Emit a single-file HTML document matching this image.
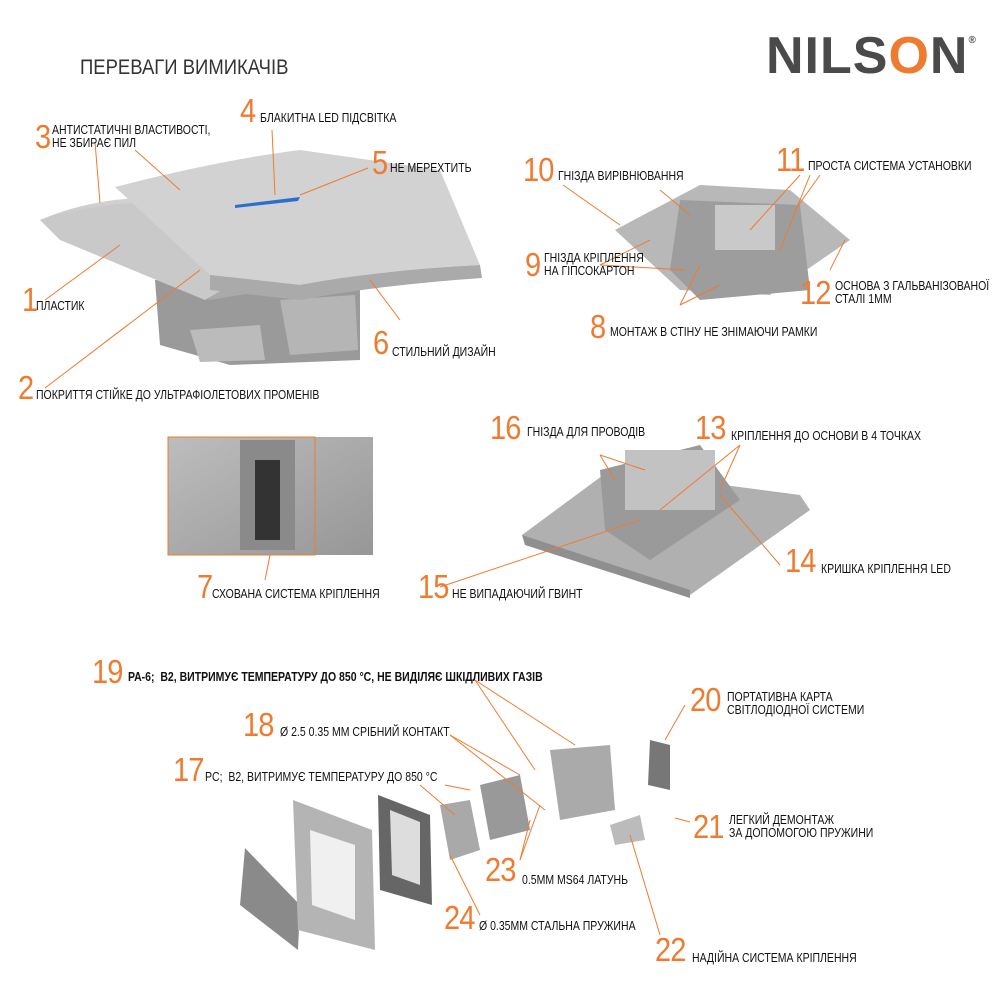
<!DOCTYPE html>
<html><head><meta charset="utf-8">
<style>
html,body{margin:0;padding:0;background:#fff}
#c{position:relative;width:1000px;height:1000px;overflow:hidden;font-family:"Liberation Sans Narrow","Liberation Sans",sans-serif}
.n{position:absolute;color:#ee7b30;font-size:33px;line-height:30px;font-weight:300;letter-spacing:-1px;transform:scaleX(.88);transform-origin:0 0}
.t{position:absolute;color:#111;font-size:12.5px;line-height:13px;white-space:nowrap;transform:scaleX(.84);transform-origin:0 0}
svg{position:absolute;left:0;top:0}
</style></head><body><div id="c">
<svg width="1000" height="1000" viewBox="0 0 1000 1000">
<defs>
<linearGradient id="g1" x1="0" y1="0" x2="0" y2="1"><stop offset="0" stop-color="#d8d8d8"/><stop offset="1" stop-color="#a8a8a8"/></linearGradient>
<linearGradient id="g2" x1="0" y1="0" x2="1" y2="1"><stop offset="0" stop-color="#bdbdbd"/><stop offset="1" stop-color="#7d7d7d"/></linearGradient>
</defs>
<path d="M155 280 L360 280 L360 360 L230 365 L160 345 Z" fill="#9a9a9a"/>
<path d="M190 330 L260 325 L265 360 L200 362 Z" fill="#bbb"/>
<path d="M280 300 L355 295 L358 350 L290 355 Z" fill="#b5b5b5"/>
<path d="M40 220 Q110 190 200 200 L360 185 L395 270 Q300 285 210 300 L70 240 Z" fill="url(#g1)"/>
<path d="M40 220 Q120 195 210 205 L230 285 L205 300 L60 240 Z" fill="#c9c9c9"/>
<path d="M115 187 Q220 160 300 150 L440 170 L480 265 Q380 270 300 285 L210 275 Z" fill="#d2d2d2"/>
<path d="M210 275 L300 285 Q380 270 480 265 L482 278 Q380 285 300 300 L210 290 Z" fill="#aaa"/>
<path d="M235 205 L300 197 L298 201 L235 208 Z" fill="#2a6fd0"/>
<rect x="168" y="437" width="205" height="118" fill="#bdbdbd"/>
<rect x="168" y="437" width="205" height="118" fill="url(#g2)" opacity=".6"/>
<rect x="240" y="440" width="55" height="110" fill="#8a8a8a"/>
<rect x="255" y="460" width="25" height="80" fill="#333"/>
<rect x="168" y="437" width="147" height="118" fill="none" stroke="#ee7b30" stroke-width="1"/>
<path d="M615 230 L700 185 L790 190 L850 240 L770 295 L680 290 Z" fill="#b8b8b8"/>
<path d="M680 200 L800 205 L810 290 L700 300 L670 270 Z" fill="#9d9d9d"/>
<rect x="715" y="205" width="60" height="45" fill="#c9c9c9"/>
<path d="M522 535 L610 470 L800 495 L810 510 L690 595 L530 545 Z" fill="#b0b0b0"/>
<path d="M522 535 L690 590 L690 598 L525 545 Z" fill="#8f8f8f"/>
<path d="M600 470 L700 445 L740 500 L650 560 L605 530 Z" fill="#9a9a9a"/>
<rect x="625" y="450" width="90" height="60" fill="#c2c2c2"/>
<path d="M245 848 L300 905 L298 950 L240 905 Z" fill="#8a8a8a"/>
<path d="M293 800 L372 830 L375 950 L298 930 Z" fill="#b4b4b4"/>
<path d="M310 830 L355 845 L355 920 L312 905 Z" fill="#fff" opacity=".8"/>
<path d="M378 795 L430 815 L432 905 L380 890 Z" fill="#666"/>
<path d="M390 810 L420 822 L420 885 L392 875 Z" fill="#ddd"/>
<path d="M440 805 L470 800 L480 850 L450 860 Z" fill="#a9a9a9"/>
<path d="M480 785 L520 775 L530 830 L490 840 Z" fill="#999"/>
<path d="M550 750 L610 745 L615 810 L560 820 Z" fill="#aaa"/>
<path d="M650 740 L670 745 L670 790 L648 785 Z" fill="#777"/>
<path d="M610 825 L640 815 L645 840 L615 845 Z" fill="#bbb"/>
<g stroke="#ee7b30" stroke-width="1" fill="none">
<line x1="95" y1="142" x2="100" y2="203"/><line x1="135" y1="150" x2="180" y2="190"/>
<line x1="272" y1="130" x2="275" y2="195"/>
<line x1="368" y1="168" x2="300" y2="195"/>
<line x1="45" y1="300" x2="120" y2="245"/>
<line x1="45" y1="388" x2="200" y2="270"/>
<line x1="370" y1="280" x2="400" y2="320"/>
<line x1="563" y1="185" x2="620" y2="225"/><line x1="660" y1="190" x2="690" y2="215"/>
<line x1="800" y1="175" x2="750" y2="230"/><line x1="810" y1="175" x2="780" y2="250"/><line x1="820" y1="175" x2="795" y2="210"/>
<line x1="600" y1="265" x2="650" y2="240"/><line x1="600" y1="265" x2="685" y2="270"/>
<line x1="830" y1="270" x2="845" y2="240"/>
<line x1="680" y1="305" x2="700" y2="265"/><line x1="680" y1="305" x2="720" y2="285"/>
<line x1="600" y1="455" x2="615" y2="480"/><line x1="600" y1="455" x2="645" y2="470"/>
<line x1="740" y1="445" x2="660" y2="510"/><line x1="740" y1="445" x2="720" y2="490"/>
<line x1="780" y1="565" x2="720" y2="495"/>
<line x1="440" y1="587" x2="640" y2="520"/>
<line x1="270" y1="555" x2="265" y2="580"/>
<line x1="475" y1="680" x2="535" y2="770"/><line x1="475" y1="680" x2="575" y2="745"/>
<line x1="450" y1="735" x2="520" y2="775"/><line x1="450" y1="735" x2="545" y2="810"/>
<line x1="420" y1="785" x2="455" y2="815"/><line x1="445" y1="785" x2="470" y2="790"/>
<line x1="520" y1="860" x2="540" y2="805"/><line x1="520" y1="860" x2="530" y2="820"/>
<line x1="480" y1="915" x2="450" y2="855"/>
<line x1="685" y1="705" x2="665" y2="740"/>
<line x1="690" y1="822" x2="675" y2="818"/>
<line x1="660" y1="935" x2="630" y2="835"/>
</g>
</svg>
<div style="position:absolute;left:80px;top:56px;font-size:21px;color:#333;transform:scaleX(.88);transform-origin:0 0">ПЕРЕВАГИ ВИМИКАЧІВ</div>
<div style="position:absolute;left:766px;top:26px;font-size:52px;font-weight:bold;color:#4a4a4a;font-family:'Liberation Sans',sans-serif;letter-spacing:1px">NILS<span style="color:#ee7b30">O</span>N<sup style="font-size:10px;vertical-align:30px">®</sup></div>

<div class="n" style="left:35px;top:122px">3</div><div class="t" style="left:52px;top:124px">АНТИСТАТИЧНІ ВЛАСТИВОСТІ,<br>НЕ ЗБИРАЄ ПИЛ</div>
<div class="n" style="left:240px;top:96px">4</div><div class="t" style="left:260px;top:112px">БЛАКИТНА LED ПІДСВІТКА</div>
<div class="n" style="left:372px;top:148px">5</div><div class="t" style="left:390px;top:162px">НЕ МЕРЕХТИТЬ</div>
<div class="n" style="left:22px;top:285px">1</div><div class="t" style="left:36px;top:300px">ПЛАСТИК</div>
<div class="n" style="left:373px;top:328px">6</div><div class="t" style="left:392px;top:346px">СТИЛЬНИЙ ДИЗАЙН</div>
<div class="n" style="left:18px;top:373px">2</div><div class="t" style="left:36px;top:389px">ПОКРИТТЯ СТІЙКЕ ДО УЛЬТРАФІОЛЕТОВИХ ПРОМЕНІВ</div>
<div class="n" style="left:523px;top:155px">10</div><div class="t" style="left:558px;top:170px">ГНІЗДА ВИРІВНЮВАННЯ</div>
<div class="n" style="left:776px;top:145px">11</div><div class="t" style="left:808px;top:160px">ПРОСТА СИСТЕМА УСТАНОВКИ</div>
<div class="n" style="left:525px;top:250px">9</div><div class="t" style="left:544px;top:252px">ГНІЗДА КРІПЛЕННЯ<br>НА ГІПСОКАРТОН</div>
<div class="n" style="left:800px;top:278px">12</div><div class="t" style="left:835px;top:280px">ОСНОВА З ГАЛЬВАНІЗОВАНОЇ<br>СТАЛІ 1ММ</div>
<div class="n" style="left:590px;top:312px">8</div><div class="t" style="left:610px;top:326px">МОНТАЖ В СТІНУ НЕ ЗНІМАЮЧИ РАМКИ</div>
<div class="n" style="left:490px;top:413px">16</div><div class="t" style="left:527px;top:426px">ГНІЗДА ДЛЯ ПРОВОДІВ</div>
<div class="n" style="left:695px;top:413px">13</div><div class="t" style="left:731px;top:430px">КРІПЛЕННЯ ДО ОСНОВИ В 4 ТОЧКАХ</div>
<div class="n" style="left:197px;top:572px">7</div><div class="t" style="left:212px;top:588px">СХОВАНА СИСТЕМА КРІПЛЕННЯ</div>
<div class="n" style="left:418px;top:572px">15</div><div class="t" style="left:452px;top:588px">НЕ ВИПАДАЮЧИЙ ГВИНТ</div>
<div class="n" style="left:785px;top:546px">14</div><div class="t" style="left:821px;top:563px">КРИШКА КРІПЛЕННЯ LED</div>
<div class="n" style="left:92px;top:657px">19</div><div class="t" style="left:128px;top:671px;font-weight:bold">РА-6;&nbsp; В2, ВИТРИМУЄ ТЕМПЕРАТУРУ ДО 850 °С, НЕ ВИДІЛЯЄ ШКІДЛИВИХ ГАЗІВ</div>
<div class="n" style="left:690px;top:685px">20</div><div class="t" style="left:727px;top:691px">ПОРТАТИВНА КАРТА<br>СВІТЛОДІОДНОЇ СИСТЕМИ</div>
<div class="n" style="left:243px;top:710px">18</div><div class="t" style="left:280px;top:726px">Ø 2.5 0.35 ММ СРІБНИЙ КОНТАКТ</div>
<div class="n" style="left:173px;top:755px">17</div><div class="t" style="left:205px;top:771px">PC;&nbsp; B2, ВИТРИМУЄ ТЕМПЕРАТУРУ ДО 850 °С</div>
<div class="n" style="left:693px;top:812px">21</div><div class="t" style="left:729px;top:814px">ЛЕГКИЙ ДЕМОНТАЖ<br>ЗА ДОПОМОГОЮ ПРУЖИНИ</div>
<div class="n" style="left:485px;top:855px">23</div><div class="t" style="left:522px;top:874px">0.5ММ MS64 ЛАТУНЬ</div>
<div class="n" style="left:444px;top:903px">24</div><div class="t" style="left:479px;top:920px">Ø 0.35ММ СТАЛЬНА ПРУЖИНА</div>
<div class="n" style="left:655px;top:935px">22</div><div class="t" style="left:692px;top:952px">НАДІЙНА СИСТЕМА КРІПЛЕННЯ</div>
</div></body></html>
